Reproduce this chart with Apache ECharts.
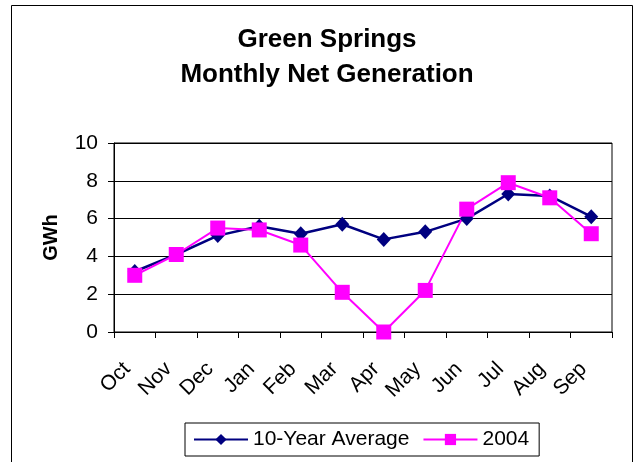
<!DOCTYPE html>
<html>
<head>
<meta charset="utf-8">
<script src="https://cdn.jsdelivr.net/npm/echarts@6/dist/echarts.min.js"></script>
<style>
  html, body { margin: 0; padding: 0; background: #fff; }
  #chart { width: 635px; height: 462px; }
</style>
</head>
<body>
<div id="chart"></div>
<script>
const months = ['Oct', 'Nov', 'Dec', 'Jan', 'Feb', 'Mar', 'Apr', 'May', 'Jun', 'Jul', 'Aug', 'Sep']
const tenYearAvg = [3.2, 4.1, 5.1, 5.6, 5.2, 5.7, 4.9, 5.3, 6.0, 7.3, 7.2, 6.1]
const year2004 = [3.0, 4.1, 5.5, 5.4, 4.6, 2.1, 0.0, 2.2, 6.5, 7.9, 7.1, 5.2]
const yTicks = [0, 2, 4, 6, 8, 10]

const font = 'Arial, "Liberation Sans", sans-serif'
const chart = echarts.init(document.getElementById('chart'))

chart.setOption({
  animation: false,
  textStyle: { fontFamily: font, color: '#000' },
  graphic: [
    {
      type: 'rect',
      shape: { x: 11.5, y: 5.5, width: 621, height: 480 },
      style: { fill: 'none', stroke: '#000', lineWidth: 1 },
      silent: true
    }
  ],
  title: {
    text: 'Green Springs\nMonthly Net Generation',
    left: 322,
    top: 17,
    textAlign: 'center',
    textStyle: { fontFamily: font, fontSize: 26, fontWeight: 'bold', color: '#000', lineHeight: 35 }
  },
  legend: {
    data: ['10-Year Average', '2004'],
    left: 185,
    top: 423,
    padding: [6, 10, 6, 8],
    borderColor: '#000',
    borderWidth: 1,
    itemWidth: 54,
    itemHeight: 14,
    itemGap: 13,
    textStyle: { fontFamily: font, fontSize: 21, color: '#000' }
  },
  grid: { left: 114, right: 23, top: 143, bottom: 130, show: true, borderColor: '#000', borderWidth: 1 },
  xAxis: {
    type: 'category',
    data: months,
    boundaryGap: true,
    axisLine: { lineStyle: { color: '#000', width: 1 } },
    axisTick: { show: true, length: 6, inside: false, lineStyle: { color: '#000' } },
    axisLabel: { rotate: 45, margin: 26, fontSize: 21, color: '#000', fontFamily: font, interval: 0, padding: [0, 11, 0, 0] }
  },
  yAxis: {
    type: 'value',
    min: yTicks[0],
    max: yTicks[yTicks.length - 1],
    interval: 2,
    name: 'GWh',
    nameLocation: 'middle',
    nameGap: 53,
    nameRotate: 90,
    nameTextStyle: { fontFamily: font, fontSize: 20, fontWeight: 'bold', color: '#000' },
    axisLine: { show: true, lineStyle: { color: '#000', width: 1 } },
    axisTick: { show: true, length: 6, lineStyle: { color: '#000' } },
    axisLabel: { margin: 16, fontSize: 21, color: '#000', fontFamily: font },
    splitLine: { lineStyle: { color: '#000', width: 1 } }
  },
  series: [
    {
      name: '10-Year Average',
      type: 'line',
      data: tenYearAvg,
      symbol: 'diamond',
      symbolSize: [14, 15],
      lineStyle: { color: '#000080', width: 2.5 },
      itemStyle: { color: '#000080' }
    },
    {
      name: '2004',
      type: 'line',
      data: year2004,
      symbol: 'rect',
      symbolSize: 15,
      lineStyle: { color: '#FF00FF', width: 2 },
      itemStyle: { color: '#FF00FF' }
    }
  ]
})
</script>
</body>
</html>
